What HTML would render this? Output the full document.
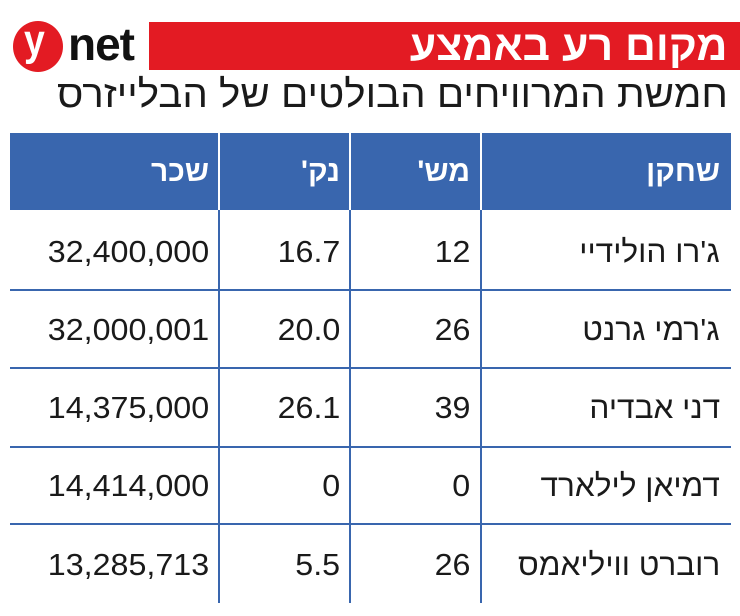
<!DOCTYPE html>
<html><head><meta charset="utf-8"><style>
body{margin:0;width:740px;height:616px;background:#fff;position:relative;overflow:hidden;font-family:"Liberation Sans","DejaVu Sans",sans-serif;}
.a{position:absolute;}
.t{position:absolute;white-space:nowrap;color:#1a1a1a;font-size:31px;line-height:40px;transform-origin:right center;transform:scaleX(1.04);}
.n{transform:scaleX(1.02);}
.h{color:#fff;font-weight:bold;font-size:30px;transform:scaleX(1.0);}
</style></head><body>
<div class="a" style="left:149px;top:22px;width:591px;height:48px;background:#e31b23"></div>
<div class="t" style="right:12px;top:26px;color:#fff;font-weight:bold;font-size:42px;direction:rtl;transform:scaleX(1.02)">מקום רע באמצע</div>
<div class="a" style="left:13px;top:21px;width:50px;height:51px;border-radius:50%;background:#e31b23"></div>
<div class="a" style="left:24px;top:16px;color:#fff;font-weight:bold;font-size:44px;line-height:50px;transform:scaleX(0.85);transform-origin:left center">y</div>
<div class="a" style="left:68px;top:17px;color:#111;font-weight:bold;font-size:46px;line-height:54px;letter-spacing:-1px">net</div>
<div class="t" style="right:12px;top:75px;font-size:38px;line-height:40px;direction:rtl;transform:scaleX(1.06)">חמשת המרוויחים הבולטים של הבלייזרס</div>
<div class="a" style="left:10px;top:133px;width:721px;height:77px;background:#3966ae"></div>
<div class="a" style="left:218px;top:133px;width:2px;height:470px;background:#fff"></div>
<div class="a" style="left:349px;top:133px;width:2px;height:470px;background:#fff"></div>
<div class="a" style="left:480px;top:133px;width:2px;height:470px;background:#fff"></div>
<div class="a" style="left:218px;top:210px;width:2px;height:393px;background:#3966ae"></div>
<div class="a" style="left:349px;top:210px;width:2px;height:393px;background:#3966ae"></div>
<div class="a" style="left:480px;top:210px;width:2px;height:393px;background:#3966ae"></div>
<div class="a" style="left:10px;top:289px;width:721px;height:2px;background:#3966ae"></div>
<div class="a" style="left:10px;top:367px;width:721px;height:2px;background:#3966ae"></div>
<div class="a" style="left:10px;top:446px;width:721px;height:2px;background:#3966ae"></div>
<div class="a" style="left:10px;top:523px;width:721px;height:2px;background:#3966ae"></div>
<div class="t h" style="right:20px;top:152px;direction:rtl">שחקן</div>
<div class="t h" style="right:270px;top:152px;direction:rtl">מש'</div>
<div class="t h" style="right:400px;top:152px;direction:rtl">נק'</div>
<div class="t h" style="right:531px;top:152px;direction:rtl">שכר</div>

<div class="t n" style="right:20px;top:232px;direction:rtl">ג'רו הולידיי</div>
<div class="t" style="right:270px;top:232px">12</div>
<div class="t" style="right:400px;top:232px">16.7</div>
<div class="t" style="right:531px;top:232px">32,400,000</div>

<div class="t n" style="right:20px;top:310px;direction:rtl">ג'רמי גרנט</div>
<div class="t" style="right:270px;top:310px">26</div>
<div class="t" style="right:400px;top:310px">20.0</div>
<div class="t" style="right:531px;top:310px">32,000,001</div>

<div class="t n" style="right:20px;top:388px;direction:rtl">דני אבדיה</div>
<div class="t" style="right:270px;top:388px">39</div>
<div class="t" style="right:400px;top:388px">26.1</div>
<div class="t" style="right:531px;top:388px">14,375,000</div>

<div class="t n" style="right:20px;top:466px;direction:rtl">דמיאן לילארד</div>
<div class="t" style="right:270px;top:466px">0</div>
<div class="t" style="right:400px;top:466px">0</div>
<div class="t" style="right:531px;top:466px">14,414,000</div>

<div class="t n" style="right:20px;top:545px;direction:rtl">רוברט וויליאמס</div>
<div class="t" style="right:270px;top:545px">26</div>
<div class="t" style="right:400px;top:545px">5.5</div>
<div class="t" style="right:531px;top:545px">13,285,713</div>
</body></html>
